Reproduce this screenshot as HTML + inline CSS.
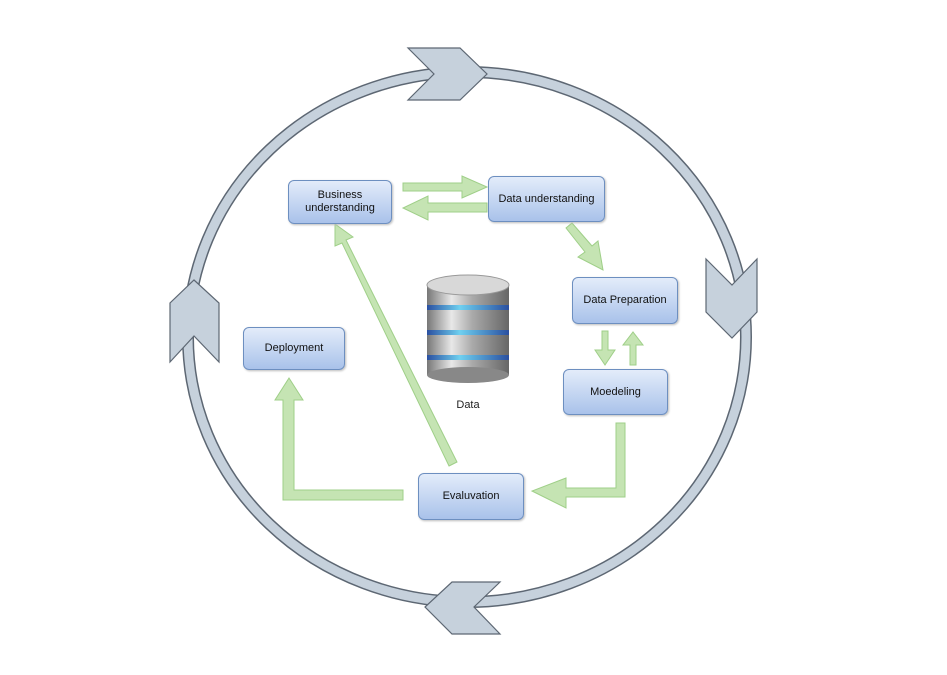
<!DOCTYPE html>
<html><head><style>
body{margin:0;background:#fff;}
.n{position:absolute;border:1px solid #6d8fc0;border-radius:6px;background:linear-gradient(#e3ecfa,#a9c2ea);font:11px "Liberation Sans",sans-serif;color:#111;display:flex;align-items:center;justify-content:center;text-align:center;line-height:13px;box-shadow:1px 1px 2px #bbb;}
</style></head><body>
<div style="position:relative;width:947px;height:675px;overflow:hidden">
<svg width="947" height="675" style="position:absolute;left:0;top:0">
<defs>
<linearGradient id="db" x1="0" x2="1"><stop offset="0" stop-color="#777"/><stop offset=".3" stop-color="#e8e8e8"/><stop offset=".55" stop-color="#aaa"/><stop offset="1" stop-color="#666"/></linearGradient>
<linearGradient id="bl" x1="0" x2="1"><stop offset="0" stop-color="#2a4fa0"/><stop offset=".4" stop-color="#6fd0f0"/><stop offset="1" stop-color="#2a4fa0"/></linearGradient>
</defs>
<ellipse cx="467" cy="337" rx="279" ry="265" fill="none" stroke="#5d6773" stroke-width="12"/>
<ellipse cx="467" cy="337" rx="279" ry="265" fill="none" stroke="#c6d1dc" stroke-width="9"/>
<g fill="#c6d1dc" stroke="#5d6773" stroke-width="1.2">
<polygon points="408,48 460,48 487,74 460,100 408,100 434,74"/>
<polygon points="706,259 732,285 757,259 757,312 732,338 706,312"/>
<polygon points="500,582 452,582 425,607 452,634 500,634 474,607"/>
<polygon points="170,362 170,303 194,280 219,303 219,362 194,336"/>
</g>
<g fill="#c5e4b3" stroke="#9fcf88" stroke-width="1">
<polygon points="403,183 462,183 462,176 487,187 462,198 462,191 403,191"/>
<polygon points="487,203 428,203 428,196 403,208 428,220 428,212 487,212"/>
<polygon points="566,228 572,223 592,246 598,241 603,270 578,257 585,252"/>
<polygon points="602,331 608,331 608,350 615,350 605,365 595,350 602,350"/>
<polygon points="630,365 636,365 636,345 643,345 633,332 623,345 630,345"/>
<polygon points="616,423 625,423 625,497 566,497 566,508 532,491 566,478 566,488 616,488"/>
<polygon points="403,490 403,500 283,500 283,400 275,400 289,378 303,400 294,400 294,490"/>
<polygon points="449,466 457,462 346,240 353,237 335,224 335,246 342,243"/>
</g>
<g>
<rect x="427" y="285" width="82" height="90" fill="url(#db)"/>
<ellipse cx="468" cy="375" rx="41" ry="8" fill="#888"/>
<rect x="427" y="305" width="82" height="5" fill="url(#bl)"/>
<rect x="427" y="330" width="82" height="5" fill="url(#bl)"/>
<rect x="427" y="355" width="82" height="5" fill="url(#bl)"/>
<ellipse cx="468" cy="285" rx="41" ry="10" fill="#d8d8d8" stroke="#999"/>
</g>
<text x="468" y="408" font-family="Liberation Sans" font-size="11" text-anchor="middle" fill="#222">Data</text>
</svg>
<div class="n" style="left:288px;top:180px;width:102px;height:42px">Business<br>understanding</div>
<div class="n" style="left:488px;top:176px;width:115px;height:44px">Data understanding</div>
<div class="n" style="left:572px;top:277px;width:104px;height:45px">Data Preparation</div>
<div class="n" style="left:563px;top:369px;width:103px;height:44px">Moedeling</div>
<div class="n" style="left:243px;top:327px;width:100px;height:41px">Deployment</div>
<div class="n" style="left:418px;top:473px;width:104px;height:45px">Evaluvation</div>
</div>
</body></html>
